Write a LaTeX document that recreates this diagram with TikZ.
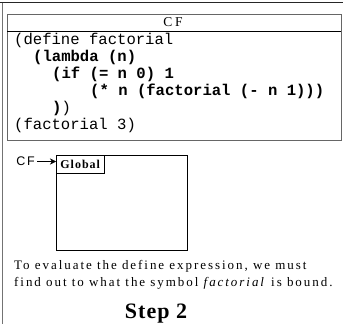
\documentclass[tikz,border=0pt]{standalone}
\usepackage{fontspec}
\setmainfont{Liberation Serif}
\setsansfont{Liberation Sans}
\setmonofont{Liberation Mono}
\usetikzlibrary{arrows.meta}

\begin{document}
\begin{tikzpicture}[x=1pt,y=-1pt,
    code/.style={anchor=base west,inner sep=0pt,font=\fontsize{15.6}{17}\ttfamily},
    boldcode/.style={code,font=\fontsize{15.6}{17}\ttfamily\bfseries},
    note/.style={anchor=base west,inner sep=0pt,font=\fontsize{13}{15}\rmfamily\addfontfeature{LetterSpace=15}}]
    \useasboundingbox (0,0) rectangle (343,324);
    \draw[black!85] (0,2.5) -- (343,2.5);
    \draw[black!55,line width=1pt] (2.5,2.5) -- (2.5,324);
    \draw[black!60] (7,14) rectangle (341,140);
    \draw (7,31) -- (341,31);
    \node[font=\fontsize{13.5}{15}\rmfamily\addfontfeature{LetterSpace=20}] (head) at (173,22.5) {CF};
    \node[code] (line1) at (14,44.3) {(define factorial};
    \node[boldcode] (line2) at (33,61.4) {(lambda (n)};
    \node[boldcode] (line3) at (52,78.5) {(if (= n 0) 1};
    \node[boldcode] (line4) at (90,95.6) {(* n (factorial (- n 1)))};
    \node[code] (line5) at (52,112.7) {\textbf{)})};
    \node[code] (line6) at (14,129.8) {(factorial 3)};
    \draw (56,155) rectangle (187,250);
    \node[draw,anchor=north west,minimum width=48pt,minimum height=18pt,inner sep=0pt,
        font=\fontsize{12}{14}\rmfamily\bfseries\addfontfeature{LetterSpace=8}] (global) at (56,155) {Global};
    \node[anchor=east,inner sep=0pt,font=\fontsize{12.5}{14}\sffamily\addfontfeature{LetterSpace=15}] (cf) at (35,161.5) {CF};
    \draw[-{Stealth[length=6pt,width=6pt]}] (cf.east) ++(2,0) -- (cf.east -| global.west);
    \node[note] (text1) at (14,269) {To evaluate the define expression, we must};
    \node[note] (text2) at (14,286) {find out to what the symbol \textit{factorial} is bound.};
    \node[anchor=base,inner sep=0pt,font=\fontsize{22}{24}\rmfamily\bfseries\addfontfeature{LetterSpace=5}] (step) at (156,318) {Step 2};
\end{tikzpicture}
\end{document}
